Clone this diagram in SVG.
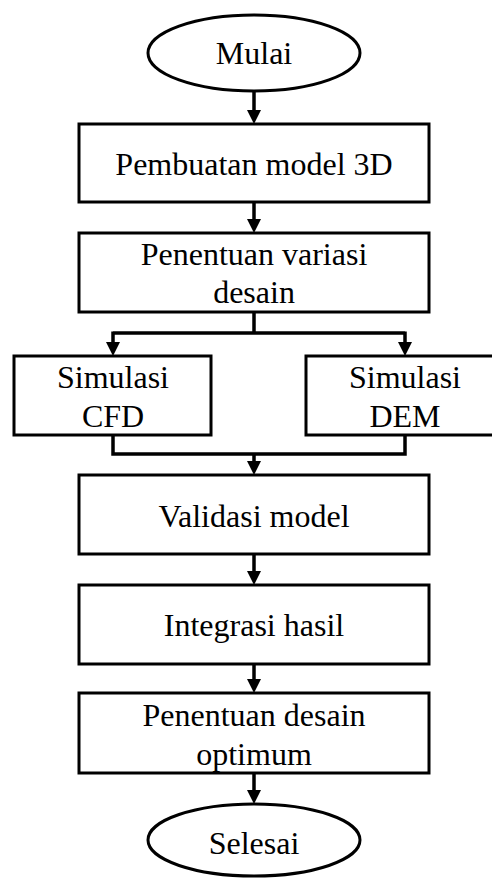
<svg xmlns="http://www.w3.org/2000/svg" width="492" height="879" viewBox="0 0 492 879">
<style>
.n{fill:#fff;stroke:#000;stroke-width:3}
.t{font-family:"Liberation Serif","Times New Roman",serif;font-size:32px;fill:#000;text-anchor:middle}
.c{fill:none;stroke:#000;stroke-width:3.5}
.h{fill:#000;stroke:none}
</style>
<rect width="492" height="879" fill="#fff"/>
<g id="connectors">
<path class="c" d="M254,91V111"/>
<polygon class="h" points="247,110 261,110 254,124"/>
<path class="c" d="M254,202V220"/>
<polygon class="h" points="247,219 261,219 254,233"/>
<path class="c" d="M254,312V333M113,333H405M113,331.5V343M405,331.5V343"/>
<polygon class="h" points="106,342 120,342 113,356"/>
<polygon class="h" points="398,342 412,342 405,356"/>
<path class="c" d="M113,435V454H405V435M254,454V462"/>
<polygon class="h" points="247,461 261,461 254,475"/>
<path class="c" d="M254,554V572"/>
<polygon class="h" points="247,571 261,571 254,585"/>
<path class="c" d="M254,664V680"/>
<polygon class="h" points="247,679 261,679 254,693"/>
<path class="c" d="M254,773V791"/>
<polygon class="h" points="247,790 261,790 254,804"/>
</g>
<g id="mulai">
<ellipse class="n" cx="254" cy="53" rx="106" ry="38"/>
<text class="t" x="254" y="64">Mulai</text>
</g>
<g id="pembuatan">
<rect class="n" x="79" y="124" width="350" height="78"/>
<text class="t" x="254" y="175">Pembuatan model 3D</text>
</g>
<g id="variasi">
<rect class="n" x="79" y="233" width="350" height="79"/>
<text class="t" x="254" y="265">Penentuan variasi</text>
<text class="t" x="254" y="303">desain</text>
</g>
<g id="cfd">
<rect class="n" x="14" y="356" width="197" height="79"/>
<text class="t" x="113" y="388">Simulasi</text>
<text class="t" x="113" y="427">CFD</text>
</g>
<g id="dem">
<rect class="n" x="306" y="356" width="197" height="79"/>
<text class="t" x="405" y="388">Simulasi</text>
<text class="t" x="405" y="427">DEM</text>
</g>
<g id="validasi">
<rect class="n" x="79" y="475" width="350" height="79"/>
<text class="t" x="254" y="527">Validasi model</text>
</g>
<g id="integrasi">
<rect class="n" x="79" y="585" width="350" height="79"/>
<text class="t" x="254" y="636">Integrasi hasil</text>
</g>
<g id="optimum">
<rect class="n" x="79" y="693" width="350" height="80"/>
<text class="t" x="254" y="726">Penentuan desain</text>
<text class="t" x="254" y="765">optimum</text>
</g>
<g id="selesai">
<ellipse class="n" cx="254" cy="840" rx="106" ry="36"/>
<text class="t" x="254" y="854">Selesai</text>
</g>
</svg>
